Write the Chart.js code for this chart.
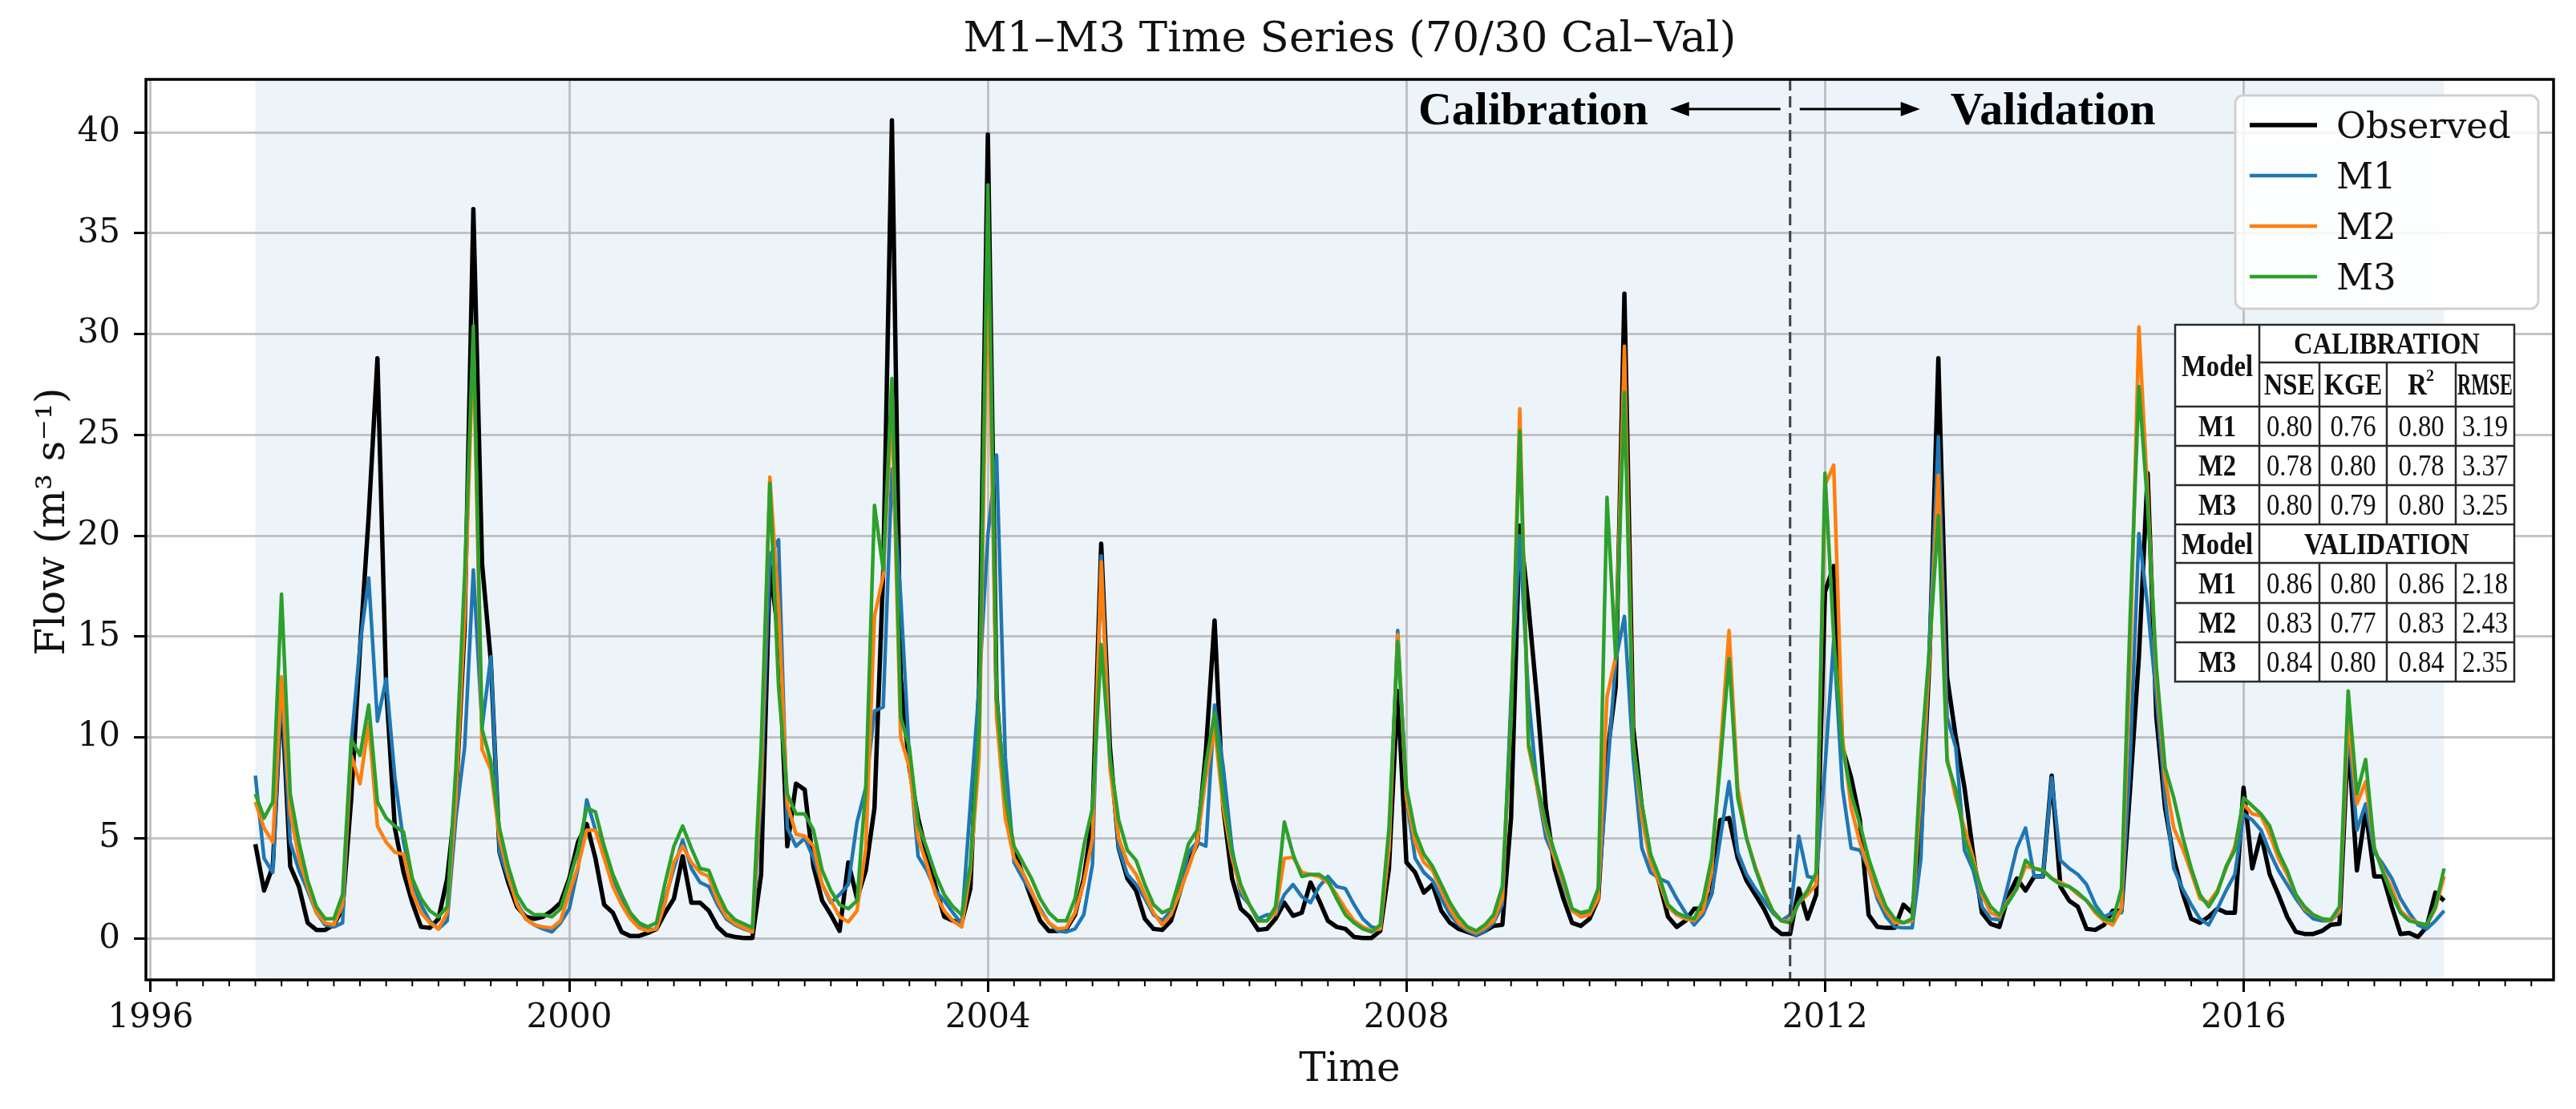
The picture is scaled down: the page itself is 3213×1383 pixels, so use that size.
<!DOCTYPE html>
<html>
<head>
<meta charset="utf-8">
<title>M1–M3 Time Series (70/30 Cal–Val)</title>
<script src="https://cdn.jsdelivr.net/npm/chart.js@4.4.1/dist/chart.umd.min.js"></script>
<style>
  html, body { margin: 0; padding: 0; background: #fff; }
  #wrap { width: 3213px; height: 1383px; }
</style>
</head>
<body>
<div id="wrap"><canvas id="flowChart" width="3213" height="1383"></canvas></div>
<script>
// monthly flow (m3/s), Jan 1997 .. Dec 2017, one row per year
const startYear = 1997;

const observed = [
  4.7, 2.4, 3.6, 12.3, 3.6, 2.6, 0.8, 0.45, 0.45, 0.7, 1.5, 7.0,
  14.4, 21.0, 28.8, 12.5, 5.5, 3.3, 1.8, 0.6, 0.55, 1.0, 3.0, 7.0,
  15.5, 36.2, 18.6, 13.8, 4.3, 2.8, 1.6, 1.1, 1.0, 1.1, 1.4, 1.8,
  3.0, 4.8, 5.7, 4.0, 1.7, 1.3, 0.35, 0.15, 0.15, 0.3, 0.5, 1.3,
  2.0, 4.1, 1.8, 1.8, 1.4, 0.6, 0.2, 0.1, 0.05, 0.05, 3.2, 18.5,
  15.0, 4.6, 7.7, 7.4, 3.6, 1.9, 1.2, 0.4, 3.8, 2.0, 3.4, 6.5,
  18.2, 40.6, 13.0, 8.5, 6.0, 4.2, 2.6, 1.1, 0.9, 0.8, 2.5, 12.5,
  39.9, 12.0, 6.5, 4.4, 3.2, 2.0, 0.9, 0.4, 0.4, 0.5, 1.2, 3.0,
  6.0, 19.6, 9.5, 4.5, 3.0, 2.4, 1.0, 0.5, 0.45, 0.9, 2.3, 3.8,
  4.7, 9.3, 15.8, 6.5, 3.0, 1.5, 1.1, 0.45, 0.5, 1.0, 1.8, 1.15,
  1.3, 2.8, 1.9, 0.9, 0.6, 0.5, 0.1, 0.05, 0.05, 0.4, 3.5, 12.3,
  3.8, 3.3, 2.3, 2.7, 1.4, 0.8, 0.5, 0.35, 0.2, 0.4, 0.65, 0.7,
  6.0, 20.5, 16.5, 11.8, 6.5, 3.5, 2.0, 0.8, 0.65, 1.0, 2.0, 9.0,
  12.5, 32.0, 10.5, 6.5, 4.0, 2.8, 1.1, 0.6, 0.9, 1.5, 1.5, 2.3,
  5.9, 6.0, 4.0, 2.9, 2.2, 1.5, 0.6, 0.25, 0.25, 2.5, 1.0, 2.2,
  17.2, 18.5, 9.5, 8.0, 5.9, 1.2, 0.6, 0.55, 0.55, 1.7, 1.3, 5.0,
  14.0, 28.8, 13.0, 10.0, 7.5, 4.2, 1.3, 0.75, 0.6, 2.1, 3.0, 2.4,
  3.1, 3.1, 8.1, 2.6, 1.9, 1.6, 0.5, 0.45, 0.7, 1.4, 1.4, 7.5,
  14.0, 23.1, 11.0, 6.5, 4.0, 2.3, 1.0, 0.8, 1.1, 1.5, 1.3, 1.3,
  7.5, 3.5, 5.2, 3.2, 2.2, 1.1, 0.35, 0.25, 0.25, 0.4, 0.7, 0.75,
  10.0, 3.4, 6.4, 3.1, 3.1, 1.6, 0.25, 0.3, 0.1, 0.6, 2.3, 1.9
];

const m1 = [
  8.1, 4.0, 3.3, 12.5, 4.8, 3.4, 2.4, 1.3, 0.7, 0.6, 0.8, 9.7,
  14.6, 17.9, 10.8, 12.9, 8.0, 4.8, 2.8, 1.7, 0.9, 0.5, 0.9, 6.0,
  9.5, 18.3, 10.5, 14.0, 4.3, 3.0, 1.8, 1.0, 0.7, 0.5, 0.35, 0.8,
  1.5, 3.5, 6.9, 5.4, 4.5, 3.0, 2.0, 1.2, 0.6, 0.45, 0.5, 2.0,
  3.5, 4.9, 3.5, 2.8, 2.6, 1.7, 1.0, 0.7, 0.5, 0.35, 7.0, 19.0,
  19.8, 5.5, 4.6, 5.0, 4.0, 2.7, 1.8, 2.2, 2.7, 5.8, 7.5, 11.3,
  11.5, 23.3, 17.0, 9.0, 4.1, 3.4, 2.4, 1.9, 1.3, 0.75, 6.7, 12.5,
  20.0, 24.0, 9.0, 3.8, 3.0, 2.3, 1.5, 0.8, 0.4, 0.35, 0.5, 1.2,
  3.7, 19.0, 9.0, 4.5, 3.2, 2.7, 2.0, 1.2, 0.9, 1.4, 2.2, 4.3,
  4.8, 4.6, 11.6, 8.5, 4.5, 2.2, 1.7, 1.0, 1.2, 1.2, 2.2, 2.7,
  2.1, 1.8, 2.6, 3.1, 2.6, 2.5, 1.7, 1.0, 0.6, 0.5, 4.5, 15.3,
  7.0, 4.0, 3.3, 2.9, 2.0, 1.2, 0.7, 0.4, 0.2, 0.4, 0.8, 1.7,
  12.0, 20.0, 12.0, 7.5, 5.0, 4.0, 2.6, 1.4, 1.2, 1.3, 2.2, 8.0,
  13.8, 16.0, 9.0, 4.5, 3.3, 3.0, 2.8, 2.0, 1.3, 0.7, 1.2, 2.2,
  5.0, 7.8, 4.3, 3.2, 2.5, 1.9, 1.3, 0.9, 1.2, 5.1, 3.1, 3.0,
  8.5, 14.8, 7.5, 4.5, 4.4, 3.5, 2.0, 1.1, 0.6, 0.55, 0.55, 4.0,
  15.0, 24.9, 11.0, 9.5, 4.4, 3.4, 1.6, 1.0, 0.95, 2.7, 4.5, 5.5,
  3.1, 3.1, 8.0, 3.9, 3.5, 3.2, 2.7, 1.7, 1.1, 1.3, 1.3, 9.0,
  20.1, 16.5, 12.0, 7.0, 3.5, 2.5, 1.7, 1.0, 0.7, 1.5, 2.4, 3.2,
  6.2, 5.9, 5.4, 4.3, 3.4, 2.7, 2.0, 1.4, 1.0, 0.9, 0.9, 1.3,
  10.5, 5.4, 6.7, 4.3, 3.7, 3.0, 2.0, 1.3, 0.7, 0.5, 0.9, 1.4
];

const m2 = [
  6.8, 5.5, 4.8, 13.0, 6.3, 4.0, 2.6, 1.3, 0.8, 0.7, 1.7, 9.1,
  7.7, 10.7, 5.6, 4.8, 4.3, 4.2, 2.3, 1.3, 0.8, 0.5, 1.3, 7.0,
  16.0, 29.8, 9.4, 8.4, 5.0, 3.2, 1.7, 1.0, 0.7, 0.6, 0.55, 0.9,
  2.3, 3.6, 5.4, 5.4, 4.0, 2.6, 1.7, 1.0, 0.55, 0.4, 0.5, 1.8,
  3.8, 4.6, 3.8, 3.3, 3.1, 1.9, 1.1, 0.75, 0.55, 0.35, 8.0, 22.9,
  16.5, 6.7, 5.2, 5.1, 4.6, 2.7, 1.9, 1.1, 0.85, 1.4, 4.5, 16.0,
  18.0, 26.5, 10.0, 8.5, 5.0, 3.7, 2.2, 1.4, 0.9, 0.6, 3.4, 9.0,
  34.0, 11.0, 6.0, 4.0, 3.3, 2.4, 1.4, 0.8, 0.5, 0.55, 1.3, 2.8,
  5.0, 18.7, 8.5, 5.0, 3.8, 3.2, 2.2, 1.3, 0.7, 1.2, 2.3, 3.5,
  4.8, 8.0, 10.5, 6.5, 4.0, 2.5, 1.7, 0.9, 0.9, 1.3, 4.0, 4.05,
  3.3, 3.2, 3.1, 2.8, 2.2, 1.5, 0.9, 0.6, 0.4, 0.5, 4.5, 15.1,
  7.0, 4.8, 3.8, 3.4, 2.4, 1.5, 0.8, 0.5, 0.3, 0.55, 0.9, 2.0,
  11.0, 26.3, 9.5, 7.5, 5.5, 4.0, 2.8, 1.4, 1.1, 1.2, 2.0, 12.0,
  14.0, 29.4, 9.8, 6.0, 3.8, 2.8, 1.6, 1.2, 1.0, 0.9, 1.4, 3.3,
  9.3, 15.3, 7.5, 5.0, 3.6, 2.4, 1.4, 0.9, 0.9, 1.8, 2.2, 2.7,
  22.5, 23.5, 10.0, 6.5, 4.8, 3.5, 2.2, 1.4, 0.8, 0.8, 0.9, 7.5,
  14.0, 23.0, 9.0, 7.0, 5.5, 4.0, 2.2, 1.3, 1.1, 1.9, 2.5, 3.6,
  3.5, 3.4, 3.0, 2.8, 2.6, 2.2, 1.9, 1.3, 0.9, 0.7, 1.5, 14.0,
  30.35, 22.0, 13.0, 8.0, 5.5, 4.5, 3.3, 2.0, 1.8, 2.4, 3.5, 4.6,
  6.7, 6.2, 6.1, 5.2, 4.0, 3.2, 2.2, 1.5, 1.2, 1.0, 0.9, 1.4,
  11.0, 6.7, 7.8, 4.5, 3.4, 2.5, 1.4, 1.0, 0.8, 0.7, 1.5, 3.1
];

const m3 = [
  7.2, 6.0, 6.8, 17.1, 7.2, 4.8, 2.9, 1.6, 1.0, 1.0, 2.2, 9.9,
  9.1, 11.6, 6.8, 6.0, 5.6, 5.3, 3.0, 2.0, 1.4, 1.1, 1.6, 8.5,
  18.0, 30.4, 10.4, 8.8, 5.5, 3.6, 2.2, 1.5, 1.2, 1.2, 1.1, 1.5,
  2.9, 4.4, 6.5, 6.3, 4.6, 3.2, 2.2, 1.3, 0.8, 0.6, 0.8, 2.8,
  4.6, 5.6, 4.5, 3.5, 3.4, 2.3, 1.4, 0.95, 0.75, 0.55, 9.5, 22.6,
  12.5, 7.2, 6.2, 6.2, 5.4, 3.4, 2.4, 1.7, 1.5, 1.9, 7.5, 21.5,
  18.3, 27.8, 11.0, 9.5, 5.7, 4.5, 3.2, 2.2, 1.6, 1.2, 3.7, 10.5,
  37.4, 12.0, 7.0, 4.6, 3.8, 3.0, 2.0, 1.3, 0.9, 0.9, 2.0, 4.6,
  6.5, 14.6, 9.0, 5.9, 4.4, 3.9, 2.7, 1.7, 1.3, 1.5, 3.0, 4.7,
  5.4, 8.7, 11.2, 7.0, 4.3, 2.7, 1.7, 0.9, 0.9, 1.6, 5.8, 4.2,
  3.1, 3.2, 3.2, 2.9, 2.0, 1.2, 0.8, 0.5, 0.35, 0.7, 5.5, 14.75,
  7.5, 5.3, 4.2, 3.6, 2.7, 1.8, 1.1, 0.6, 0.4, 0.7, 1.2, 2.6,
  11.0, 25.2, 9.7, 7.7, 5.7, 4.3, 3.0, 1.5, 1.3, 1.4, 2.5, 21.9,
  13.9, 27.1, 9.6, 6.7, 4.2, 3.1, 1.7, 1.3, 1.1, 1.0, 1.9, 4.0,
  8.7, 13.9, 7.0, 5.0, 3.5, 2.3, 1.4, 0.9, 0.8, 1.8, 2.4, 3.3,
  23.1, 15.0, 9.5, 7.2, 5.7, 4.0, 2.7, 1.6, 1.0, 0.8, 1.0, 9.0,
  14.5, 21.0, 8.8, 7.4, 5.0, 3.7, 2.4, 1.6, 1.2, 1.8, 2.5, 3.9,
  3.5, 3.4, 3.0, 2.7, 2.6, 2.3, 1.9, 1.4, 1.0, 0.9, 2.5, 16.0,
  27.4, 21.5, 13.5, 8.5, 7.0, 5.1, 3.5, 2.2, 1.6, 2.3, 3.6, 4.4,
  7.0, 6.6, 6.2, 5.6, 4.3, 3.4, 2.2, 1.6, 1.2, 1.0, 0.95, 1.6,
  12.3, 7.2, 8.9, 4.5, 3.3, 2.2, 1.3, 0.9, 0.8, 0.7, 1.6, 3.5
];

// 70/30 split: first 176 months calibration
const calMonths = 176;

// metrics table
const tableModels = ['M1', 'M2', 'M3'];
const tableHeads = ['NSE', 'KGE', 'R', 'RMSE'];
const calStats = [
  [0.80, 0.76, 0.80, 3.19],
  [0.78, 0.80, 0.78, 3.37],
  [0.80, 0.79, 0.80, 3.25]
];
const valStats = [
  [0.86, 0.80, 0.86, 2.18],
  [0.83, 0.77, 0.83, 2.43],
  [0.84, 0.80, 0.84, 2.35]
];

const series = [
  { label: 'Observed', values: observed, color: '#000000', width: 5.5 },
  { label: 'M1', values: m1, color: '#1f77b4', width: 4.5 },
  { label: 'M2', values: m2, color: '#ff7f0e', width: 4.5 },
  { label: 'M3', values: m3, color: '#2ca02c', width: 4.5 }
];

const SERIF = '"DejaVu Serif", serif';
const TIMES = '"Liberation Serif", "Times New Roman", serif';

function monthPos(i) { return startYear + i / 12; }

const n = observed.length;
const xFirst = monthPos(0), xLast = monthPos(n - 1);
const xPad = (xLast - xFirst) * 0.05;
const yMaxData = Math.max(...observed, ...m1, ...m2, ...m3);
const yPad = yMaxData * 0.05;

function line(ctx, x1, y1, x2, y2) {
  ctx.beginPath(); ctx.moveTo(x1, y1); ctx.lineTo(x2, y2); ctx.stroke();
}

function arrow(ctx, xFrom, xTo, y) {
  const dir = Math.sign(xTo - xFrom);
  ctx.lineWidth = 3;
  line(ctx, xFrom, y, xTo - dir * 18, y);
  ctx.beginPath();
  ctx.moveTo(xTo, y);
  ctx.lineTo(xTo - dir * 24, y - 9);
  ctx.lineTo(xTo - dir * 24, y + 9);
  ctx.closePath();
  ctx.fill();
}

function drawTable(ctx) {
  const xs = [2713, 2818, 2893, 2977, 3063, 3136];
  const ys = [405, 452, 507, 556, 605, 654, 702, 752, 801, 850];
  ctx.save();
  ctx.fillStyle = '#fff';
  ctx.fillRect(xs[0], ys[0], xs[5] - xs[0], ys[9] - ys[0]);
  ctx.strokeStyle = '#2a2a2a';
  ctx.lineWidth = 2.5;
  ctx.strokeRect(xs[0], ys[0], xs[5] - xs[0], ys[9] - ys[0]);
  line(ctx, xs[1], ys[1], xs[5], ys[1]);
  for (let r = 2; r <= 8; r++) line(ctx, xs[0], ys[r], xs[5], ys[r]);
  line(ctx, xs[1], ys[0], xs[1], ys[9]);
  for (let c = 2; c <= 4; c++) {
    line(ctx, xs[c], ys[1], xs[c], ys[5]);
    line(ctx, xs[c], ys[6], xs[c], ys[9]);
  }
  ctx.fillStyle = '#111';
  ctx.textAlign = 'center';
  ctx.textBaseline = 'alphabetic';
  const fs = 38, sx = 0.86;
  const put = (txt, cx, top, bot, bold, maxW) => {
    ctx.save();
    ctx.font = (bold ? 'bold ' : '') + fs + 'px ' + TIMES;
    ctx.translate(cx, (top + bot) / 2 + fs * 0.33);
    ctx.scale(sx, 1);
    ctx.fillText(txt, 0, 0, (maxW || 1000) / sx);
    ctx.restore();
  };
  const mid = c => (xs[c] + xs[c + 1]) / 2;
  const w = c => xs[c + 1] - xs[c] - 4;
  put('Model', mid(0), ys[0], ys[2], true, w(0));
  put('CALIBRATION', (xs[1] + xs[5]) / 2, ys[0], ys[1], true);
  tableHeads.forEach((h, k) => {
    if (h === 'R') {
      put('R', mid(k + 1) - 5, ys[1], ys[2], true);
      ctx.font = 'bold 20px ' + TIMES;
      ctx.fillText('2', mid(k + 1) + 11, (ys[1] + ys[2]) / 2 - 5);
    } else {
      put(h, mid(k + 1), ys[1], ys[2], true, w(k + 1));
    }
  });
  const rows = (stats, r0) => stats.forEach((row, j) => {
    put(tableModels[j], mid(0), ys[r0 + j], ys[r0 + j + 1], true);
    row.forEach((v, k) => put(v.toFixed(2), mid(k + 1), ys[r0 + j], ys[r0 + j + 1], false, w(k + 1)));
  });
  rows(calStats, 2);
  put('Model', mid(0), ys[5], ys[6], true, w(0));
  put('VALIDATION', (xs[1] + xs[5]) / 2, ys[5], ys[6], true);
  rows(valStats, 6);
  ctx.restore();
}

function drawLegend(ctx) {
  ctx.save();
  ctx.fillStyle = 'rgba(255,255,255,0.85)';
  ctx.strokeStyle = '#d0d0d0';
  ctx.lineWidth = 3;
  ctx.beginPath();
  ctx.roundRect(2788, 119, 378, 266, 10);
  ctx.fill();
  ctx.stroke();
  ctx.font = '45px ' + SERIF;
  ctx.textAlign = 'left';
  ctx.textBaseline = 'alphabetic';
  series.forEach((s, k) => {
    const y = 156 + k * 63;
    ctx.strokeStyle = s.color;
    ctx.lineWidth = s.width;
    line(ctx, 2806, y, 2890, y);
    ctx.fillStyle = '#111';
    ctx.fillText(s.label, 2914, y + 16);
  });
  ctx.restore();
}

const decorPlugin = {
  id: 'decor',
  beforeDraw(chart) {
    const { ctx, chartArea: a, scales: { x } } = chart;
    ctx.save();
    ctx.fillStyle = '#fff';
    ctx.fillRect(0, 0, chart.width, chart.height);
    const x0 = x.getPixelForValue(monthPos(0));
    const xs = x.getPixelForValue(monthPos(calMonths));
    const x1 = x.getPixelForValue(monthPos(n - 1));
    ctx.fillStyle = 'rgba(31,119,180,0.08)';
    ctx.fillRect(x0, a.top, xs - x0, a.bottom - a.top);
    ctx.fillRect(xs, a.top, x1 - xs, a.bottom - a.top);
    ctx.restore();
  },
  afterDatasetsDraw(chart) {
    const { ctx, chartArea: a, scales: { x } } = chart;
    ctx.save();
    // split line
    const xs = x.getPixelForValue(monthPos(calMonths));
    ctx.strokeStyle = '#404040';
    ctx.lineWidth = 3;
    ctx.setLineDash([14, 7]);
    line(ctx, xs, a.top, xs, a.bottom);
    ctx.setLineDash([]);
    // quarterly minor ticks
    ctx.strokeStyle = '#000';
    ctx.lineWidth = 2;
    for (let k = 0; k < 100; k++) {
      const yr = 1996 + k / 4;
      if (k % 16 === 0) continue;
      const px = x.getPixelForValue(yr);
      if (px > a.right) break;
      line(ctx, px, a.bottom, px, a.bottom + 8);
    }
    // spines
    ctx.lineWidth = 3.5;
    ctx.strokeRect(a.left, a.top, a.right - a.left, a.bottom - a.top);
    ctx.restore();
  },
  afterDraw(chart) {
    const { ctx, chartArea: a, scales: { x } } = chart;
    const cx = (a.left + a.right) / 2, cy = (a.top + a.bottom) / 2;
    ctx.save();
    ctx.fillStyle = '#111';
    ctx.textAlign = 'center';
    ctx.textBaseline = 'alphabetic';
    ctx.font = '53px ' + SERIF;
    ctx.fillText('M1–M3 Time Series (70/30 Cal–Val)', cx, 64);
    ctx.font = '50px ' + SERIF;
    ctx.fillText('Time', cx, 1348);
    ctx.save();
    ctx.translate(80, cy - 10);
    ctx.rotate(-Math.PI / 2);
    ctx.fillText('Flow (m³ s⁻¹)', 0, 0);
    ctx.restore();

    // calibration / validation labels
    const xs = x.getPixelForValue(monthPos(calMonths));
    ctx.fillStyle = '#000';
    ctx.strokeStyle = '#000';
    ctx.font = 'bold 58px ' + TIMES;
    ctx.textAlign = 'right';
    ctx.fillText('Calibration', xs - 177, 155);
    ctx.textAlign = 'left';
    ctx.fillText('Validation', xs + 200, 155);
    arrow(ctx, xs - 12, xs - 150, 136);
    arrow(ctx, xs + 12, xs + 162, 136);
    ctx.restore();

    drawLegend(ctx);
    drawTable(ctx);
  }
};

new Chart(document.getElementById('flowChart'), {
  type: 'line',
  data: {
    datasets: series.map((s, k) => ({
      label: s.label,
      data: s.values.map((v, i) => ({ x: monthPos(i), y: v })),
      borderColor: s.color,
      borderWidth: s.width,
      borderJoinStyle: 'round',
      pointRadius: 0,
      tension: 0,
      fill: false,
      order: series.length - k
    }))
  },
  options: {
    responsive: false,
    animation: false,
    devicePixelRatio: 1,
    layout: { padding: { top: 99, right: 28, bottom: 0, left: 0 } },
    plugins: {
      legend: { display: false },
      title: { display: false },
      tooltip: { enabled: false }
    },
    scales: {
      x: {
        type: 'linear',
        min: xFirst - xPad,
        max: xLast + xPad,
        afterFit: s => { s.height = 161; },
        border: { display: false },
        grid: {
          color: 'rgba(176,176,176,0.75)', lineWidth: 3,
          tickColor: '#000', tickWidth: 3, tickLength: 15
        },
        ticks: {
          stepSize: 4, includeBounds: false, maxRotation: 0, autoSkip: false,
          padding: 8, color: '#111',
          font: { family: 'DejaVu Serif', size: 42 },
          callback: v => String(v)
        }
      },
      y: {
        min: -yPad,
        max: yMaxData + yPad,
        afterFit: s => { s.width = 182; },
        border: { display: false },
        grid: {
          color: 'rgba(176,176,176,0.75)', lineWidth: 3,
          tickColor: '#000', tickWidth: 3, tickLength: 15
        },
        ticks: {
          stepSize: 5, includeBounds: false, padding: 17, color: '#111',
          font: { family: 'DejaVu Serif', size: 42 },
          callback: v => String(v)
        }
      }
    }
  },
  plugins: [decorPlugin]
});
</script>
</body>
</html>
